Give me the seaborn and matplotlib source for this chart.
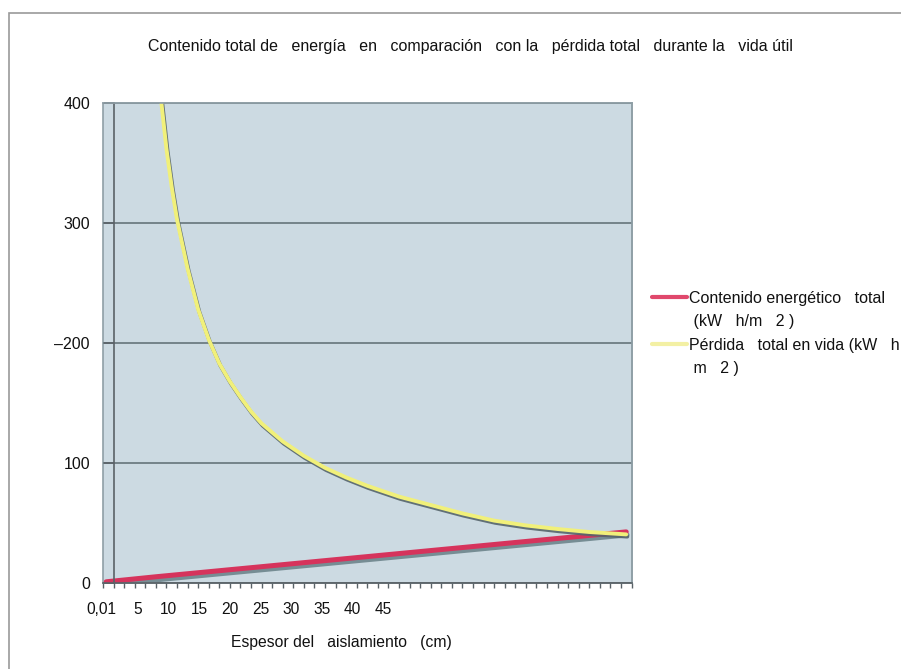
import matplotlib.pyplot as plt
import matplotlib.patheffects as pe
from matplotlib.lines import Line2D
from matplotlib.patches import Rectangle
import numpy as np
import pandas as pd
import seaborn as sns

sns.set_theme(style="white")
plt.rcParams['font.family'] = ['Liberation Sans', 'DejaVu Sans']

# espesor del aislamiento (cm) -> contenido energetico total (kWh/m2)
espesor_contenido = [0.3, 5, 10, 15, 20, 25, 30, 35, 40, 45, 49.5]
contenido_total = [1.0, 5.2, 9.4, 13.6, 17.8, 22.0, 26.2, 30.4, 34.6, 38.8, 42.6]

# espesor del aislamiento (cm) -> perdida total en vida (kWh/m2)
espesor_perdida = [5, 5.5, 6, 6.5, 7, 8, 9, 10, 11, 12, 13, 14, 15, 17, 19, 21,
                   23, 25, 28, 31, 34, 37, 40, 43, 46, 49.5]
perdida_total = [445, 402, 362, 330, 303, 262, 228, 203, 183, 168, 155, 143, 133,
                 118, 106, 96, 88, 81, 72, 65, 58, 52, 48, 45, 42.5, 40.5]

titulo = ("Contenido total de   energía   en   comparación   con la   "
          "pérdida total   durante la   vida útil")
x_titulo = "Espesor del   aislamiento   (cm)"
x_labels = ["0,01", "5", "10", "15", "20", "25", "30", "35", "40", "45"]
y_ticks = [0, 100, 200, 300, 400]
y_labels = ["0", "100", "–200", "300", "400"]
leyenda = ["Contenido energético   total", " (kW   h/m   2 )",
           "Pérdida   total en vida (kW   h", " m   2 )"]

rojo = "#d6335c"
amarillo = "#f1f07a"

df_c = pd.DataFrame({"espesor": espesor_contenido, "valor": contenido_total})
df_p = pd.DataFrame({"espesor": espesor_perdida, "valor": perdida_total})

fig = plt.figure(figsize=(9.01, 6.69), dpi=100)
ax = fig.add_axes([103 / 901, 1 - 583 / 669, 528.5 / 901, 480 / 669])
ax.set_facecolor("#ccdae2")

sns.lineplot(data=df_c, x="espesor", y="valor", color=rojo, lw=3.6, ax=ax)
sns.lineplot(data=df_p, x="espesor", y="valor", color=amarillo, lw=2.8, ax=ax)
ax.lines[0].set_path_effects([pe.SimpleLineShadow(offset=(0.6, -2.2), shadow_color="#6d858c", alpha=0.9),
                              pe.Normal()])
ax.lines[1].set_path_effects([pe.SimpleLineShadow(offset=(0.8, -1.6), shadow_color="#56656b", alpha=0.9),
                              pe.Normal()])

ax.set_xlim(0, 50)
ax.set_ylim(0, 400)

# grid + frame
ax.yaxis.grid(True, color="#65747a", lw=1.2)
ax.patch.set_edgecolor("#8f9fa6")
ax.patch.set_linewidth(1.2)
for s in ["top", "right"]:
    ax.spines[s].set_color("#8f9fa6")
    ax.spines[s].set_linewidth(1.2)
ax.spines["bottom"].set_color("#5a6267")
ax.spines["bottom"].set_linewidth(1.2)
ax.spines["left"].set_position(("data", 1))
ax.spines["left"].set_color("#5a6267")
ax.spines["left"].set_linewidth(1.2)

# y axis
ax.set_yticks(y_ticks)
ax.set_yticklabels(y_labels)
ax.tick_params(axis="y", left=True, direction="out", length=7.5, width=1.2,
               color="#5a6267", pad=9.5, labelsize=11.5, labelcolor="#111111")

# x axis: ticks every cm, labels placed loosely as in the original
ax.set_xticks([])
ax.set_xticks(np.arange(0, 51), minor=True)
ax.tick_params(axis="x", which="minor", bottom=True, direction="out", length=3.5,
               width=1, color="#5a6267")
for i, lab in enumerate(x_labels):
    pos = -0.2 if i == 0 else 3.3 + 2.9 * (i - 1)
    ax.text(pos, -27 / 480, lab, transform=ax.get_xaxis_transform(),
            ha="center", va="center", fontsize=11.2, color="#111111")

ax.set_xlabel(x_titulo, fontsize=11.3, color="#111111")
ax.set_ylabel("")
ax.xaxis.set_label_coords((341 - 103) / 528.5, -(642 - 583) / 480)
ax.xaxis.label.set_va("center")

fig.text(470 / 901, 1 - 46 / 669, titulo, ha="center", va="center",
         fontsize=11.5, color="#111111")

handles = [Line2D([], [], color="#e0486c", lw=3),
           Line2D([], [], color="none"),
           Line2D([], [], color="#f3f0a4", lw=3),
           Line2D([], [], color="none")]
ax.legend(handles, leyenda, loc="upper left", bbox_to_anchor=(652 / 901, 1 - 291 / 669),
          bbox_transform=fig.transFigure, frameon=False, fontsize=11.5,
          handlelength=2.2, handletextpad=0.13, labelspacing=0.52,
          borderpad=0, borderaxespad=0, labelcolor="#111111")

# outer frame of the original picture
fig.add_artist(Rectangle((9 / 901, -0.1), 1.2, 0.1 + 1 - 12.7 / 669, fill=False,
                         ec="#9a9a9a", lw=1.2, transform=fig.transFigure))

fig.savefig("out.png", dpi=100)
